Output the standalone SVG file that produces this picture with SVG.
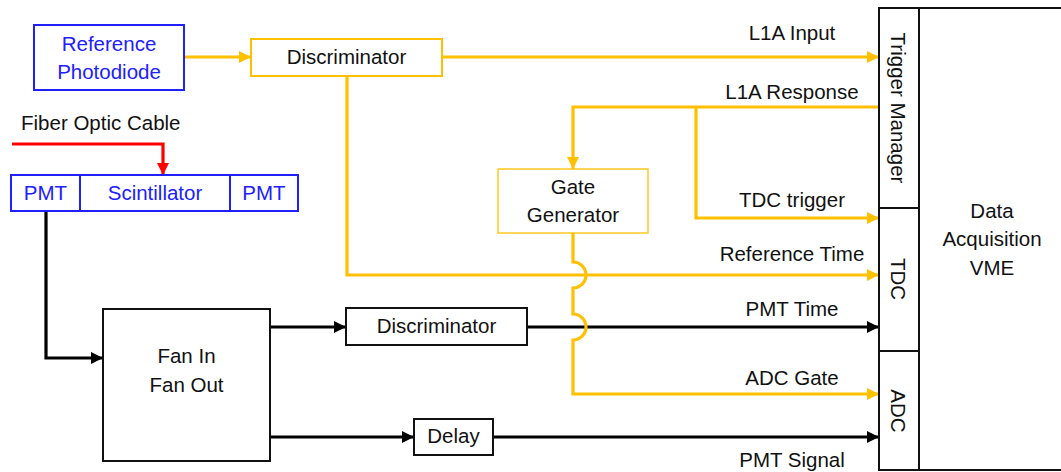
<svg xmlns="http://www.w3.org/2000/svg" width="1061" height="472" viewBox="0 0 1061 472">
  <defs>
    <style>
      text { font-family: "Liberation Sans", Arial, sans-serif; font-size: 20.5px; fill: #111; }
      .c { text-anchor: middle; }
      .blue-t { fill: #2020FF; }
      .box { fill: #fff; stroke: #111; stroke-width: 2; }
      .bbox { fill: #fff; stroke: #2020FF; stroke-width: 2; }
      .obox { fill: #fff; stroke: #FFC000; stroke-width: 2; }
      .obox-thin { fill: #fff; stroke: #FFC000; stroke-width: 1.3; }
      .wire { fill: none; stroke-width: 3.2; stroke-linejoin: miter; }
      .orange { stroke: #FFC000; }
      .black { stroke: #000; }
      .red { stroke: #FF0000; }
    </style>
    <marker id="ah-orange" markerUnits="userSpaceOnUse" markerWidth="12" markerHeight="12" refX="12" refY="6" orient="auto">
      <path d="M0,0 L12,6 L0,12 z" fill="#FFC000"/>
    </marker>
    <marker id="ah-black" markerUnits="userSpaceOnUse" markerWidth="12" markerHeight="12" refX="12" refY="6" orient="auto">
      <path d="M0,0 L12,6 L0,12 z" fill="#000"/>
    </marker>
    <marker id="ah-red" markerUnits="userSpaceOnUse" markerWidth="12" markerHeight="12" refX="12" refY="6" orient="auto">
      <path d="M0,0 L12,6 L0,12 z" fill="#FF0000"/>
    </marker>
  </defs>

  <rect width="1061" height="472" fill="#fff"/>

  <!-- signal lines -->
  <g id="connectors">
    <!-- fiber into scintillator -->
    <path class="wire red" d="M12,144 H163 V175" marker-end="url(#ah-red)"/>
    <!-- analogue / timing chain (black) -->
    <path class="wire black" d="M46,211 V358 H103" marker-end="url(#ah-black)"/>
    <path class="wire black" d="M270,327 H346" marker-end="url(#ah-black)"/>
    <path class="wire black" d="M270,437 H414" marker-end="url(#ah-black)"/>
    <path class="wire black" d="M527,327 H879" marker-end="url(#ah-black)"/>
    <path class="wire black" d="M493,437 H879" marker-end="url(#ah-black)"/>
    <!-- trigger chain (orange) -->
    <path class="wire orange" d="M185,57 H251" marker-end="url(#ah-orange)"/>
    <path class="wire orange" d="M442,57 H879" marker-end="url(#ah-orange)"/>
    <path class="wire orange" d="M879,107 H573 V169" marker-end="url(#ah-orange)"/>
    <path class="wire orange" d="M696,107 V218 H879" marker-end="url(#ah-orange)"/>
    <path class="wire orange" d="M347,76 V275 H879" marker-end="url(#ah-orange)"/>
    <path class="wire orange" d="M573,233 V262 A13,13 0 0 1 573,288 V314 A13,13 0 0 1 573,340 V394 H879" marker-end="url(#ah-orange)"/>
  </g>

  <!-- labels on the lines -->
  <g id="line-labels">
    <text x="21" y="130">Fiber Optic Cable</text>
    <text class="c" x="792" y="40">L1A Input</text>
    <text class="c" x="792" y="99">L1A Response</text>
    <text class="c" x="792" y="207">TDC trigger</text>
    <text class="c" x="792" y="261">Reference Time</text>
    <text class="c" x="792" y="316">PMT Time</text>
    <text class="c" x="792" y="385">ADC Gate</text>
    <text class="c" x="792" y="467">PMT Signal</text>
  </g>

  <g id="photodiode">
    <rect class="bbox" x="34" y="25" width="150" height="65"/>
    <text class="c blue-t" x="109" y="51">Reference</text>
    <text class="c blue-t" x="109" y="79">Photodiode</text>
  </g>

  <g id="discriminator-ref">
    <rect class="obox" x="251" y="39" width="191" height="37"/>
    <text class="c" x="346.5" y="64">Discriminator</text>
  </g>

  <g id="pmt-left">
    <rect class="bbox" x="11" y="175" width="69" height="36"/>
    <text class="c blue-t" x="45.5" y="200">PMT</text>
  </g>
  <g id="scintillator">
    <rect class="bbox" x="80" y="175" width="150" height="36"/>
    <text class="c blue-t" x="155" y="200">Scintillator</text>
  </g>
  <g id="pmt-right">
    <rect class="bbox" x="230" y="175" width="68" height="36"/>
    <text class="c blue-t" x="264" y="200">PMT</text>
  </g>

  <g id="fan-in-out">
    <rect class="box" x="103" y="309" width="167" height="152"/>
    <text class="c" x="186.5" y="363">Fan In</text>
    <text class="c" x="186.5" y="392">Fan Out</text>
  </g>

  <g id="discriminator-pmt">
    <rect class="box" x="346" y="308" width="181" height="37"/>
    <text class="c" x="436.5" y="333">Discriminator</text>
  </g>

  <g id="delay">
    <rect class="box" x="414" y="419" width="79" height="36"/>
    <text class="c" x="453.5" y="443">Delay</text>
  </g>

  <g id="gate-generator">
    <rect class="obox-thin" x="498" y="169" width="150" height="64"/>
    <text class="c" x="573" y="194">Gate</text>
    <text class="c" x="573" y="222">Generator</text>
  </g>

  <g id="daq-vme">
    <rect class="box" x="919" y="8" width="160" height="462"/>
    <text class="c" x="992" y="218">Data</text>
    <text class="c" x="992" y="246">Acquisition</text>
    <text class="c" x="992" y="275">VME</text>
  </g>

  <g id="trigger-manager">
    <rect class="box" x="879" y="8" width="40" height="200"/>
    <text class="c" transform="translate(891,108) rotate(90)">Trigger Manager</text>
  </g>

  <g id="tdc">
    <rect class="box" x="879" y="208" width="40" height="143"/>
    <text class="c" transform="translate(891,279) rotate(90)">TDC</text>
  </g>

  <g id="adc">
    <rect class="box" x="879" y="351" width="40" height="119"/>
    <text class="c" transform="translate(891,411) rotate(90)">ADC</text>
  </g>
</svg>
